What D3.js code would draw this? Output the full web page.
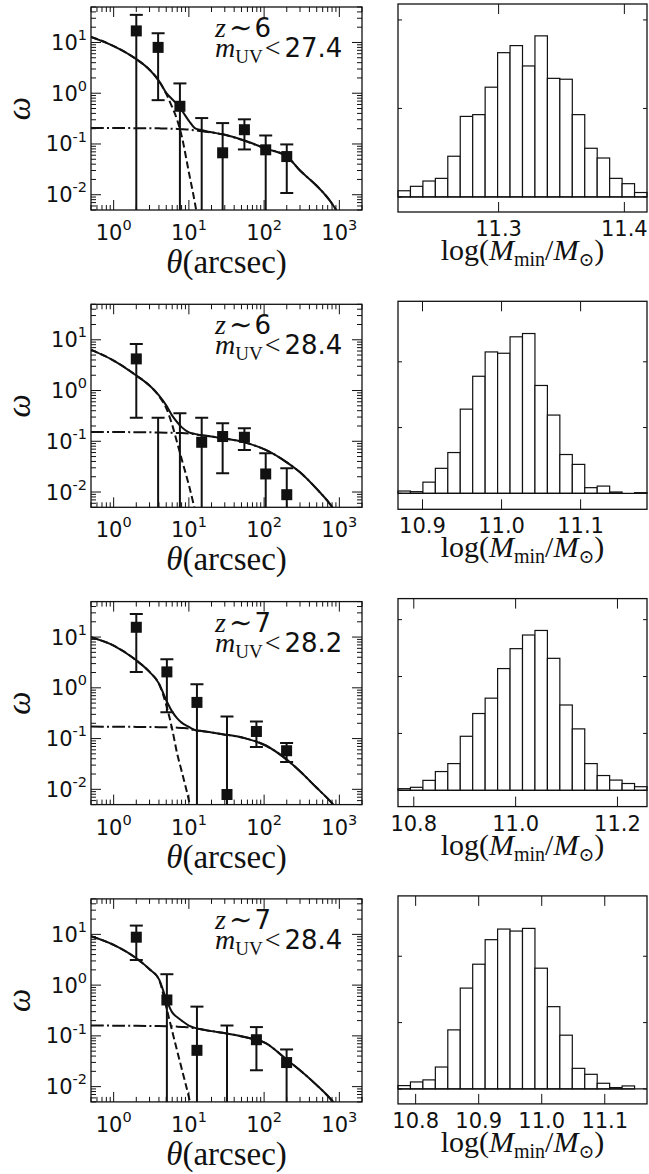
<!DOCTYPE html>
<html lang="en">
<head>
    <meta charset="UTF-8">
    <title>Angular correlation fits and M_min posteriors</title>
    <script src="https://d3js.org/d3.v7.min.js"></script>
</head>

<style>
    body { margin: 0; background: #fff; }
    text { fill: #111; }
    .frame { fill: none; stroke: #111; stroke-width: 1.3px; }
    .tick { stroke: #111; stroke-width: 1px; }
    .num { font-family: "DejaVu Sans", sans-serif; }
    .serif { font-family: "Liberation Serif", "DejaVu Serif", serif; }
    .model { fill: none; stroke: #111; stroke-width: 2px; }
    .errbar { stroke: #111; stroke-width: 2px; }
    .point { fill: #111; }
    .bar { fill: #fff; stroke: #111; stroke-width: 1.2px; }
</style>

<body>
<svg width="649" height="1174"></svg>

<script>
    // ---- panel labels ----
    var zLabels = ["6", "6", "7", "7"];
    var magLimits = ["27.4", "28.4", "28.2", "28.4"];

    // ---- measured w(theta); null = point below the axis / error bar runs off the bottom ----
    var theta_z6 = [2.0, 3.9, 7.6, 14.8, 28.1, 54.7, 105, 200];
    var theta_z7 = [2.0, 5.1, 12.8, 32.1, 79, 199];

    var w_z6_274   = [16.9, 8.0, 0.553, null, 0.067, 0.191, 0.0767, 0.0565];
    var wHi_z6_274 = [35, 15.2, 1.56, 0.324, 0.258, 0.306, 0.147, 0.098];
    var wLo_z6_274 = [null, 0.73, null, null, null, 0.078, null, 0.0108];

    var w_z6_284   = [4.2, null, null, 0.0955, 0.124, 0.12, 0.0227, 0.00886];
    var wHi_z6_284 = [8.3, 0.29, 0.357, 0.29, 0.227, 0.18, 0.058, 0.0293];
    var wLo_z6_284 = [0.29, null, null, null, 0.0234, 0.0675, null, null];

    var w_z7_282   = [15.6, 2.06, 0.516, 0.0079, 0.138, 0.0576];
    var wHi_z7_282 = [28.5, 3.64, 1.18, 0.271, 0.216, 0.0814];
    var wLo_z7_282 = [2.06, 0.33, null, null, 0.068, 0.0346];

    var w_z7_284   = [8.8, 0.51, 0.0519, null, 0.084, 0.0298];
    var wHi_z7_284 = [14.9, 1.64, 0.377, 0.16, 0.149, 0.054];
    var wLo_z7_284 = [3.13, null, null, null, 0.021, null];

    // ---- HOD model curves on a common theta grid ----
    var thetaModel = [0.5, 1, 2, 3, 4, 5, 6, 7, 8, 10, 12, 14, 20, 28, 55, 105, 200, 300, 500, 750, 1000];

    var total_z6_274 = [12.9, 8.5, 4.7, 2.9, 1.75, 1.02, 0.76, 0.6, 0.465, 0.286, 0.205, 0.19, 0.17, 0.155, 0.117, 0.081, 0.057, 0.030, 0.015, 0.0076, 0.004];
    var oneH_z6_274  = [12.9, 8.5, 4.7, 2.9, 1.75, 0.97, 0.53, 0.295, 0.146, 0.0275, 0.007, 0.0018, null, null, null, null, null, null, null, null, null];
    var twoH_z6_274  = [0.207, 0.206, 0.205, 0.204, 0.203, 0.202, 0.2, 0.198, 0.196, 0.192, 0.186, 0.18, 0.168, 0.155, 0.115, 0.081, 0.057, 0.030, 0.015, 0.0076, 0.004];

    var total_z6_284 = [6.35, 3.9, 1.98, 1.25, 0.8, 0.51, 0.32, 0.237, 0.19, 0.15, 0.14, 0.133, 0.124, 0.115, 0.095, 0.0675, 0.0385, 0.0245, 0.0115, 0.0058, 0.003];
    var oneH_z6_284  = [6.35, 3.9, 1.98, 1.25, 0.78, 0.45, 0.21, 0.093, 0.045, 0.0137, 0.0045, null, null, null, null, null, null, null, null, null, null];
    var twoH_z6_284  = [0.152, 0.152, 0.151, 0.15, 0.149, 0.148, 0.147, 0.146, 0.145, 0.142, 0.138, 0.133, 0.124, 0.115, 0.095, 0.0675, 0.0385, 0.0245, 0.0115, 0.0058, 0.003];

    var total_z7_282 = [9.95, 6.8, 3.48, 2.06, 1.22, 0.57, 0.34, 0.25, 0.206, 0.17, 0.148, 0.142, 0.132, 0.122, 0.102, 0.073, 0.0385, 0.0227, 0.0107, 0.0059, 0.0035];
    var oneH_z7_282  = [9.95, 6.8, 3.48, 2.06, 1.2, 0.46, 0.153, 0.05, 0.023, 0.006, 0.0015, null, null, null, null, null, null, null, null, null, null];
    var twoH_z7_282  = [0.172, 0.171, 0.17, 0.169, 0.168, 0.167, 0.166, 0.164, 0.162, 0.158, 0.145, 0.142, 0.132, 0.122, 0.102, 0.073, 0.0385, 0.0227, 0.0107, 0.0059, 0.0035];

    var total_z7_284 = [9.2, 6.2, 3.38, 2.06, 1.31, 0.53, 0.29, 0.233, 0.2, 0.16, 0.144, 0.136, 0.124, 0.115, 0.095, 0.072, 0.034, 0.021, 0.0107, 0.0059, 0.0035];
    var oneH_z7_284  = [9.2, 6.2, 3.38, 2.06, 1.3, 0.37, 0.124, 0.05, 0.023, 0.0062, 0.0018, null, null, null, null, null, null, null, null, null, null];
    var twoH_z7_284  = [0.16, 0.159, 0.158, 0.157, 0.156, 0.155, 0.154, 0.152, 0.15, 0.147, 0.141, 0.136, 0.124, 0.115, 0.095, 0.072, 0.034, 0.021, 0.0107, 0.0059, 0.0035];

    // ---- log(M_min) posterior histograms (20 bins spanning the axis range) ----
    var hist_z6_274 = [7, 12, 18, 21, 46, 91, 93, 124, 163, 171, 148, 182, 134, 133, 93, 55, 44, 21, 15, 5];
    var hist_z6_284 = [3.5, 2.5, 17, 38, 62, 128, 178, 215, 213, 238, 243, 164, 119, 59, 44, 8.6, 11, 2, 0, 1];
    var hist_z7_282 = [2.9, 5.3, 17.5, 33, 47, 95, 135, 162, 214, 249, 273, 281, 232, 150, 108, 47, 26, 18, 12, 6.4];
    var hist_z7_284 = [5, 10.5, 13.6, 33, 89, 152, 188, 225, 241, 238, 242, 182, 124, 81, 31, 22, 8.5, 2, 4.5, 0];

    var mminLo = [11.22, 10.869, 10.769, 10.772];
    var mminHi = [11.418, 11.184, 11.258, 11.167];
    var mminTicks = [[11.3, 11.4], [10.9, 11.0, 11.1], [10.8, 11.0, 11.2], [10.8, 10.9, 11.0, 11.1]];
    var countLo = [-17, -24.3, -28.6, -22.6];
    var countHi = [218, 292, 337, 291];
    var countTicks = [[0, 100, 200], [0, 100, 200], [0, 100, 200, 300], [0, 100, 200]];

    var panels = [
        {theta: theta_z6, w: w_z6_274, hi: wHi_z6_274, lo: wLo_z6_274, total: total_z6_274, oneH: oneH_z6_274, twoH: twoH_z6_274, hist: hist_z6_274},
        {theta: theta_z6, w: w_z6_284, hi: wHi_z6_284, lo: wLo_z6_284, total: total_z6_284, oneH: oneH_z6_284, twoH: twoH_z6_284, hist: hist_z6_284},
        {theta: theta_z7, w: w_z7_282, hi: wHi_z7_282, lo: wLo_z7_282, total: total_z7_282, oneH: oneH_z7_282, twoH: twoH_z7_282, hist: hist_z7_282},
        {theta: theta_z7, w: w_z7_284, hi: wHi_z7_284, lo: wLo_z7_284, total: total_z7_284, oneH: oneH_z7_284, twoH: twoH_z7_284, hist: hist_z7_284}
    ];

    var svg = d3.select("svg");
    var defs = svg.append("defs");

    var rowStep = 297.3;
    var wBox = {left: 91, right: 362, top: 7, height: 203};
    var hBox = {left: 398, right: 647, top: 4, height: 208};

    function isDecade(v) {
        var l = Math.log10(v);
        return Math.abs(l - Math.round(l)) < 1e-6;
    }

    function powerLabel(sel, exp) {
        sel.append("tspan").text("10");
        sel.append("tspan").style("font-size", "14.5px").attr("dy", "-0.68em").text(exp);
    }

    function drawCorrelation(p, i) {
        var top = wBox.top + i * rowStep, bottom = top + wBox.height;
        var x = d3.scaleLog().domain([0.5, 2000]).range([wBox.left, wBox.right]);
        var y = d3.scaleLog().domain([0.005, 50]).range([bottom, top]);
        var g = svg.append("g");

        defs.append("clipPath").attr("id", "wclip" + i)
            .append("rect")
            .attr("x", wBox.left).attr("y", top)
            .attr("width", wBox.right - wBox.left).attr("height", wBox.height);

        var plot = g.append("g").attr("clip-path", "url(#wclip" + i + ")");

        function modelPath(vals) {
            return d3.line()
                .defined(function (d, k) { return vals[k] != null; })
                .x(function (d) { return x(d); })
                .y(function (d, k) { return y(vals[k]); })
                .curve(d3.curveMonotoneX)(thetaModel);
        }

        plot.append("path").attr("class", "model").attr("d", modelPath(p.twoH))
            .attr("stroke-dasharray", "12.8,3.2,2,3.2");
        plot.append("path").attr("class", "model").attr("d", modelPath(p.oneH))
            .attr("stroke-dasharray", "7,3.5");
        plot.append("path").attr("class", "model").attr("d", modelPath(p.total));

        var obs = p.theta.map(function (t, k) {
            return {t: t, w: p.w[k], hi: p.hi[k], lo: p.lo[k]};
        });

        plot.selectAll("line.err").data(obs).join("line")
            .attr("class", "errbar")
            .attr("x1", function (d) { return x(d.t); })
            .attr("x2", function (d) { return x(d.t); })
            .attr("y1", function (d) { return y(d.hi); })
            .attr("y2", function (d) { return d.lo == null ? bottom + 2 : y(d.lo); });

        plot.selectAll("line.capHi").data(obs).join("line")
            .attr("class", "errbar")
            .attr("x1", function (d) { return x(d.t) - 6.5; })
            .attr("x2", function (d) { return x(d.t) + 6.5; })
            .attr("y1", function (d) { return y(d.hi); })
            .attr("y2", function (d) { return y(d.hi); });

        plot.selectAll("line.capLo").data(obs.filter(function (d) { return d.lo != null; })).join("line")
            .attr("class", "errbar")
            .attr("x1", function (d) { return x(d.t) - 6.5; })
            .attr("x2", function (d) { return x(d.t) + 6.5; })
            .attr("y1", function (d) { return y(d.lo); })
            .attr("y2", function (d) { return y(d.lo); });

        plot.selectAll("rect.point").data(obs.filter(function (d) { return d.w != null; })).join("rect")
            .attr("class", "point")
            .attr("x", function (d) { return x(d.t) - 5.5; })
            .attr("y", function (d) { return y(d.w) - 5.5; })
            .attr("width", 11).attr("height", 11);

        // ticks, all four sides, pointing in
        var xt = x.ticks(), yt = y.ticks();
        xt.forEach(function (v) {
            var len = isDecade(v) ? 10 : 5, px = x(v);
            g.append("line").attr("class", "tick").attr("x1", px).attr("x2", px).attr("y1", bottom).attr("y2", bottom - len);
            g.append("line").attr("class", "tick").attr("x1", px).attr("x2", px).attr("y1", top).attr("y2", top + len);
        });
        yt.forEach(function (v) {
            var len = isDecade(v) ? 10 : 5, py = y(v);
            g.append("line").attr("class", "tick").attr("x1", wBox.left).attr("x2", wBox.left + len).attr("y1", py).attr("y2", py);
            g.append("line").attr("class", "tick").attr("x1", wBox.right).attr("x2", wBox.right - len).attr("y1", py).attr("y2", py);
        });

        xt.filter(isDecade).forEach(function (v) {
            g.append("text").attr("class", "num").style("font-size", "21px")
                .attr("x", x(v)).attr("y", bottom + 30)
                .attr("text-anchor", "middle")
                .call(powerLabel, String(Math.round(Math.log10(v))));
        });
        yt.filter(isDecade).forEach(function (v) {
            g.append("text").attr("class", "num").style("font-size", "21px")
                .attr("x", wBox.left - 4).attr("y", y(v) + 7.5)
                .attr("text-anchor", "end")
                .call(powerLabel, String(Math.round(Math.log10(v))));
        });

        g.append("rect").attr("class", "frame")
            .attr("x", wBox.left).attr("y", top)
            .attr("width", wBox.right - wBox.left).attr("height", wBox.height);

        // axis titles
        g.append("text").attr("class", "serif")
            .attr("transform", "translate(30," + (top + wBox.height / 2) + ") rotate(-90)")
            .attr("text-anchor", "middle")
            .style("font-size", "33px").style("font-style", "italic")
            .text("ω");

        var xl = g.append("text").attr("class", "serif")
            .attr("x", (wBox.left + wBox.right) / 2).attr("y", bottom + 63)
            .attr("text-anchor", "middle").style("font-size", "33px");
        xl.append("tspan").style("font-style", "italic").text("θ");
        xl.append("tspan").text("(arcsec)");

        // sample annotation
        var ax = wBox.left + 124;
        var t1 = g.append("text").attr("x", ax).attr("y", top + 30);
        t1.append("tspan").attr("class", "serif").style("font-style", "italic").style("font-size", "28px").text("z");
        t1.append("tspan").attr("class", "serif").style("font-size", "28px").attr("dx", 3).text("∼");
        t1.append("tspan").attr("class", "num").style("font-size", "26px").attr("dx", 2).text(zLabels[i]);

        var t2 = g.append("text").attr("x", ax).attr("y", top + 50);
        t2.append("tspan").attr("class", "serif").style("font-style", "italic").style("font-size", "28px").text("m");
        t2.append("tspan").attr("class", "serif").style("font-size", "19px").attr("dy", 6).text("UV");
        t2.append("tspan").attr("class", "serif").style("font-size", "28px").attr("dy", -6).attr("dx", 2).text("<");
        t2.append("tspan").attr("class", "num").style("font-size", "26px").attr("dx", 4).text(magLimits[i]);
    }

    function drawHistogram(p, i) {
        var top = hBox.top + i * rowStep, bottom = top + hBox.height;
        var x = d3.scaleLinear().domain([mminLo[i], mminHi[i]]).range([hBox.left, hBox.right]);
        var y = d3.scaleLinear().domain([countLo[i], countHi[i]]).range([bottom, top]);
        var g = svg.append("g");
        var binW = (mminHi[i] - mminLo[i]) / p.hist.length;

        g.selectAll("rect.bar").data(p.hist).join("rect")
            .attr("class", "bar")
            .attr("x", function (d, k) { return x(mminLo[i] + k * binW); })
            .attr("width", x(mminLo[i] + binW) - x(mminLo[i]))
            .attr("y", function (d) { return y(d); })
            .attr("height", function (d) { return y(0) - y(d); });

        g.append("line").attr("class", "tick").style("stroke-width", "1.3px")
            .attr("x1", hBox.left).attr("x2", hBox.right)
            .attr("y1", y(0)).attr("y2", y(0));

        mminTicks[i].forEach(function (v) {
            var px = x(v);
            g.append("line").attr("class", "tick").attr("x1", px).attr("x2", px).attr("y1", bottom).attr("y2", bottom - 10);
            g.append("line").attr("class", "tick").attr("x1", px).attr("x2", px).attr("y1", top).attr("y2", top + 10);
            g.append("text").attr("class", "num").style("font-size", "21px")
                .attr("x", px).attr("y", bottom + 24)
                .attr("text-anchor", "middle")
                .text(d3.format(".1f")(v));
        });
        countTicks[i].forEach(function (v) {
            var py = y(v);
            g.append("line").attr("class", "tick").attr("x1", hBox.left).attr("x2", hBox.left + 4).attr("y1", py).attr("y2", py);
            g.append("line").attr("class", "tick").attr("x1", hBox.right).attr("x2", hBox.right - 4).attr("y1", py).attr("y2", py);
        });

        g.append("rect").attr("class", "frame")
            .attr("x", hBox.left).attr("y", top)
            .attr("width", hBox.right - hBox.left).attr("height", hBox.height);

        var xl = g.append("text").attr("class", "serif")
            .attr("x", (hBox.left + hBox.right) / 2).attr("y", bottom + 48)
            .attr("text-anchor", "middle").style("font-size", "30px");
        xl.append("tspan").text("log(");
        xl.append("tspan").style("font-style", "italic").text("M");
        xl.append("tspan").style("font-size", "20px").attr("dy", 6).text("min");
        xl.append("tspan").attr("dy", -6).text("/");
        xl.append("tspan").style("font-style", "italic").text("M");
        xl.append("tspan").style("font-size", "19px").attr("dy", 6).text("⊙");
        xl.append("tspan").attr("dy", -6).text(")");
    }

    panels.forEach(function (p, i) {
        drawCorrelation(p, i);
        drawHistogram(p, i);
    });
</script>
</body>
</html>
